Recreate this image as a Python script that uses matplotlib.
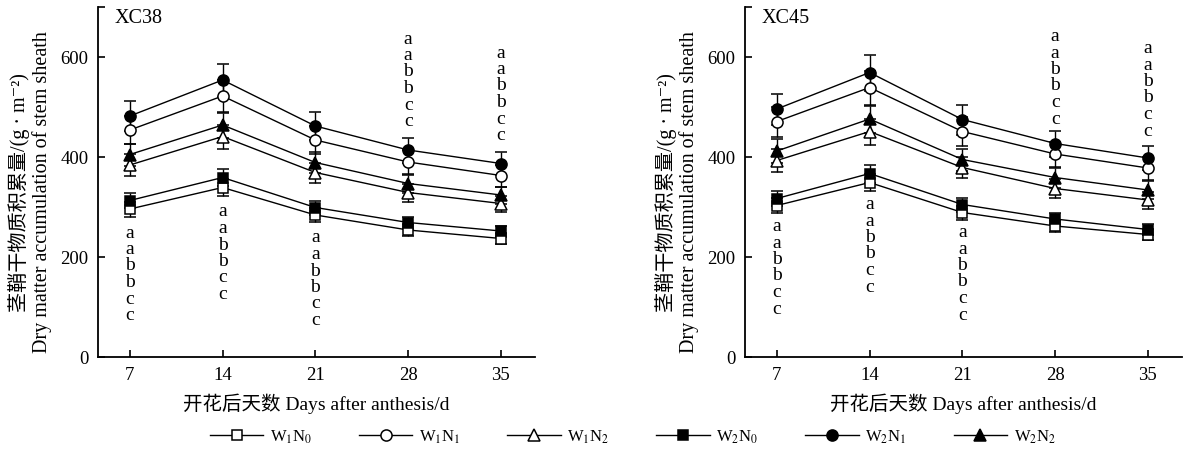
import matplotlib
matplotlib.use("Agg")
import matplotlib.pyplot as plt
from matplotlib.lines import Line2D

plt.rcParams['font.family'] = ['Liberation Serif', 'Noto Sans CJK SC', 'DejaVu Sans']
plt.rcParams['mathtext.fontset'] = 'stix'

days = [7, 14, 21, 28, 35]
labels = ['W$_1$N$_0$', 'W$_1$N$_1$', 'W$_1$N$_2$', 'W$_2$N$_0$', 'W$_2$N$_1$', 'W$_2$N$_2$']

# XC38
xc38_w1n0 = [296, 339, 284, 254, 237]
xc38_w1n1 = [454, 522, 434, 390, 363]
xc38_w1n2 = [384, 441, 369, 329, 307]
xc38_w2n0 = [313, 359, 299, 269, 252]
xc38_w2n1 = [482, 554, 462, 414, 387]
xc38_w2n2 = [405, 464, 389, 347, 324]
xc38_err_w1n0 = [15, 17, 14, 12, 11]
xc38_err_w1n1 = [28, 32, 28, 24, 22]
xc38_err_w1n2 = [22, 24, 20, 18, 16]
xc38_err_w2n0 = [15, 17, 14, 12, 11]
xc38_err_w2n1 = [30, 33, 28, 25, 23]
xc38_err_w2n2 = [22, 25, 21, 18, 17]

# XC45
xc45_w1n0 = [303, 349, 289, 262, 245]
xc45_w1n1 = [471, 539, 451, 406, 378]
xc45_w1n2 = [393, 451, 379, 337, 314]
xc45_w2n0 = [317, 367, 305, 276, 255]
xc45_w2n1 = [496, 569, 475, 427, 398]
xc45_w2n2 = [412, 476, 395, 359, 334]
xc45_err_w1n0 = [15, 17, 14, 12, 11]
xc45_err_w1n1 = [30, 34, 29, 25, 23]
xc45_err_w1n2 = [23, 26, 21, 19, 17]
xc45_err_w2n0 = [15, 18, 14, 12, 11]
xc45_err_w2n1 = [31, 36, 30, 26, 24]
xc45_err_w2n2 = [24, 27, 22, 20, 18]

# significance letters (same for every day), and where the top letter sits
letters = ['a', 'a', 'b', 'b', 'c', 'c']
xc38_letter_top = [248, 290, 238, 636, 608]
xc45_letter_top = [261, 305, 249, 641, 617]
letter_step = 33

markers = ['s', 'o', '^', 's', 'o', '^']
faces = ['white', 'white', 'white', 'black', 'black', 'black']

fig = plt.figure(figsize=(11.9, 4.49), dpi=100)


def draw_panel(ax, series, errs, letter_top, title):
    for vals, err, m, fc, lab in zip(series, errs, markers, faces, labels):
        ax.errorbar(days, vals, yerr=err, color='black', lw=1, marker=m,
                    markersize=8 if m != 's' else 7, mfc=fc, mec='black', mew=1.1,
                    capsize=4.5, elinewidth=1, capthick=1, label=lab)
    for d, top in zip(days, letter_top):
        for i, l in enumerate(letters):
            ax.text(d, top - i * letter_step, l, ha='center', va='center', fontsize=14)
    ax.set_xlim(4.6, 37.57)
    ax.set_ylim(0, 700)
    ax.set_xticks(days)
    ax.set_yticks([0, 200, 400, 600, 700])
    ax.set_yticklabels(['0', '200', '400', '600', ''])
    ax.tick_params(direction='in', length=5, width=1.2, labelsize=13.5, pad=7)
    ax.spines['top'].set_visible(False)
    ax.spines['right'].set_visible(False)
    for s in ['left', 'bottom']:
        ax.spines[s].set_linewidth(1.3)
    ax.text(0.038, 0.995, title, transform=ax.transAxes, ha='left', va='top', fontsize=14.5)
    ax.set_xlabel('开花后天数 Days after anthesis/d', fontsize=14, labelpad=7)
    ax.set_ylabel('茎鞘干物质积累量/(g · m⁻²)\nDry matter accumulation of stem sheath',
                  fontsize=14.5, linespacing=1.1)
    ax.yaxis.set_label_coords(-0.106, 0.47)


ax1 = fig.add_axes([98 / 1190, 1 - 357 / 449, 437 / 1190, 350 / 449])
draw_panel(ax1,
           [xc38_w1n0, xc38_w1n1, xc38_w1n2, xc38_w2n0, xc38_w2n1, xc38_w2n2],
           [xc38_err_w1n0, xc38_err_w1n1, xc38_err_w1n2, xc38_err_w2n0, xc38_err_w2n1, xc38_err_w2n2],
           xc38_letter_top, 'XC38')

ax2 = fig.add_axes([745 / 1190, 1 - 357 / 449, 437 / 1190, 350 / 449])
draw_panel(ax2,
           [xc45_w1n0, xc45_w1n1, xc45_w1n2, xc45_w2n0, xc45_w2n1, xc45_w2n2],
           [xc45_err_w1n0, xc45_err_w1n1, xc45_err_w1n2, xc45_err_w2n0, xc45_err_w2n1, xc45_err_w2n2],
           xc45_letter_top, 'XC45')

# legend without error bars in the handles
handles = [Line2D([], [], color='black', lw=1, marker=m, markersize=8 if m != 's' else 7,
                  mfc=fc, mec='black', mew=1.1) for m, fc in zip(markers, faces)]
fig.legend(handles, labels, loc='center', bbox_to_anchor=(0.532, 0.027), ncol=6,
           frameon=False, fontsize=12, handlelength=3.2, columnspacing=2.8, handletextpad=0.4)

fig.savefig('out.png', dpi=100)
